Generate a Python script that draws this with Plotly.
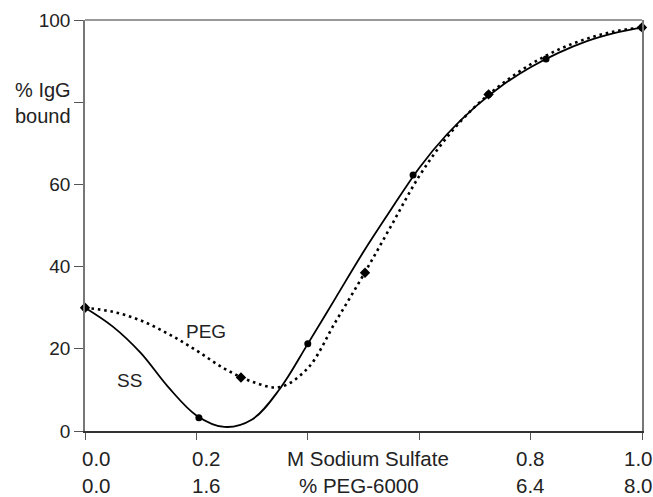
import plotly.graph_objects as go

# Measured points (x in M sodium sulfate; PEG scale = 8x)
ss_x = [0.0, 0.2045, 0.4, 0.589, 0.7245, 0.8277, 1.0]
ss_y = [30.0, 3.2, 21.2, 62.3, 81.9, 90.5, 98.2]
peg_x = [0.0, 0.28, 0.5027, 0.7245, 1.0]
peg_y = [30.0, 13.0, 38.5, 81.9, 98.2]

# Fitted curves
ss_fit_x = [0.0, 0.05, 0.10, 0.15, 0.20, 0.25, 0.30, 0.35, 0.40, 0.45, 0.50, 0.55, 0.60,
            0.65, 0.70, 0.75, 0.80, 0.85, 0.90, 0.95, 1.0]
ss_fit_y = [30.0, 25.4, 19.0, 10.6, 3.8, 1.0, 2.8, 10.3, 21.2, 32.4, 43.6, 54.0, 64.0,
            72.2, 78.8, 84.2, 88.5, 92.0, 94.8, 96.8, 98.2]
peg_fit_x = [0.0, 0.05, 0.10, 0.15, 0.20, 0.25, 0.30, 0.35, 0.40, 0.45, 0.50, 0.55, 0.60,
             0.65, 0.70, 0.75, 0.80, 0.85, 0.90, 0.95, 1.0]
peg_fit_y = [30.0, 29.0, 26.9, 23.6, 19.6, 15.2, 12.0, 10.7, 15.3, 26.6, 38.0, 50.0, 62.0,
             71.5, 78.9, 84.6, 89.2, 92.8, 95.4, 97.2, 98.2]

x_tick_vals = [0.0, 0.2, 0.4, 0.6, 0.8, 1.0]
y_tick_vals = [0, 20, 40, 60, 80, 100]
y_tick_text = ["0", "20", "40", "60", "", "100"]
label_pos = [0.0, 0.2, 0.5, 0.8, 1.0]
ss_labels = ["0.0", "0.2", "M Sodium Sulfate", "0.8", "1.0"]
peg_labels = ["0.0", "1.6", "% PEG-6000", "6.4", "8.0"]
y_title = "% IgG<br>bound"

FONT = "Liberation Sans, Arial, sans-serif"
TXT = "#222222"

fig = go.Figure()
fig.add_trace(go.Scatter(x=peg_fit_x, y=peg_fit_y, mode="lines",
                         line=dict(color="black", width=2.6, dash="2.6px,3.8px", shape="spline", smoothing=1.0),
                         hoverinfo="skip", showlegend=False))
fig.add_trace(go.Scatter(x=ss_fit_x, y=ss_fit_y, mode="lines",
                         line=dict(color="black", width=1.8, shape="spline", smoothing=1.0),
                         hoverinfo="skip", showlegend=False))
fig.add_trace(go.Scatter(x=peg_x, y=peg_y, mode="markers", cliponaxis=False,
                         marker=dict(symbol="diamond", size=8, color="black"), showlegend=False))
fig.add_trace(go.Scatter(x=ss_x, y=ss_y, mode="markers", cliponaxis=False,
                         marker=dict(symbol="circle", size=7, color="black"), showlegend=False))

shifts = [11, 10, 4, 0, -4]
annotations = []
for p, t1, t2, s in zip(label_pos, ss_labels, peg_labels, shifts):
    annotations.append(dict(x=p, y=0, xref="x", yref="paper", text=t1, showarrow=False,
                            xanchor="center", yanchor="middle", yshift=-27, xshift=s,
                            font=dict(family=FONT, size=20.5, color=TXT)))
    annotations.append(dict(x=p, y=0, xref="x", yref="paper", text=t2, showarrow=False,
                            xanchor="center", yanchor="middle", yshift=-54, xshift=(s if p != 0.5 else -5),
                            font=dict(family=FONT, size=20.5, color=TXT)))
annotations.append(dict(x=0, y=80, xref="paper", yref="y", text=y_title, showarrow=False,
                        xanchor="right", yanchor="middle", xshift=-12, yshift=-1, align="right",
                        font=dict(family=FONT, size=20, color=TXT)))
annotations.append(dict(x=0.218, y=24.1, xref="x", yref="y", text="PEG", showarrow=False,
                        font=dict(family=FONT, size=19, color=TXT)))
annotations.append(dict(x=0.0796, y=12.2, xref="x", yref="y", text="SS", showarrow=False,
                        font=dict(family=FONT, size=19, color=TXT)))

fig.update_layout(
    width=653, height=497,
    margin=dict(l=85, r=9, t=20, b=66),
    plot_bgcolor="white", paper_bgcolor="white",
    annotations=annotations,
    shapes=[dict(type="line", xref="paper", yref="paper", x0=0, x1=1, y0=1, y1=1,
                 line=dict(color="#777777", width=1.5))],
    xaxis=dict(range=[0, 1], showgrid=False, zeroline=False, showline=True,
               linecolor="#333333", linewidth=1.5, ticks="outside", ticklen=7,
               tickcolor="#555555", tickwidth=1.3, tickvals=x_tick_vals, showticklabels=False),
    yaxis=dict(range=[0, 100], showgrid=False, zeroline=False, showline=True, mirror=True,
               linecolor="#777777", linewidth=1.5, ticks="outside", ticklen=9,
               tickcolor="#555555", tickwidth=1.3, tickvals=y_tick_vals, ticktext=y_tick_text,
               tickfont=dict(family=FONT, size=19, color=TXT)),
)

fig.write_html("out.html")
